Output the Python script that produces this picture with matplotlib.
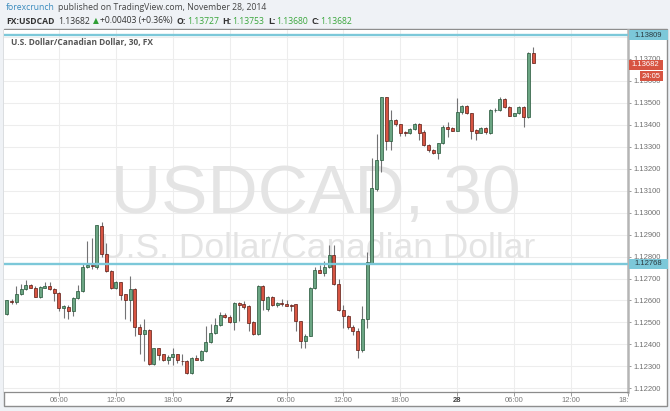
import matplotlib
matplotlib.use("Agg")
import matplotlib.pyplot as plt
import matplotlib.dates as mdates
import matplotlib.transforms as mtrans
from matplotlib.patches import Rectangle
import numpy as np
import pandas as pd

# ---------------- data (USDCAD, 30 min candles) ----------------
first_bar = "2014-11-26 00:30"
opens = [1.12538, 1.12597, 1.12592, 1.12628, 1.12652, 1.12669, 1.12658, 1.12618, 1.12658, 1.12665,
         1.12654, 1.12635, 1.12566, 1.12572, 1.12554, 1.12611, 1.12642, 1.12751, 1.12760, 1.12754,
         1.12938, 1.12811, 1.12735, 1.12657, 1.12682, 1.12628, 1.12603, 1.12654, 1.12480, 1.12449,
         1.12466, 1.12311, 1.12382, 1.12354, 1.12328, 1.12343, 1.12354, 1.12325, 1.12325, 1.12269,
         1.12339, 1.12331, 1.12369, 1.12409, 1.12451, 1.12486, 1.12536, 1.12523, 1.12502, 1.12588,
         1.12582, 1.12574, 1.12502, 1.12446, 1.12665, 1.12562, 1.12615, 1.12579, 1.12588, 1.12582,
         1.12580, 1.12582, 1.12505, 1.12416, 1.12439, 1.12655, 1.12739, 1.12726, 1.12754, 1.12809,
         1.12677, 1.12558, 1.12528, 1.12477, 1.12462, 1.12374, 1.12517, 1.12772, 1.13107, 1.13240,
         1.13526, 1.13328, 1.13422, 1.13404, 1.13368, 1.13362, 1.13380, 1.13404, 1.13369, 1.13308,
         1.13286, 1.13271, 1.13316, 1.13392, 1.13387, 1.13374, 1.13460, 1.13486, 1.13453, 1.13377,
         1.13365, 1.13385, 1.13365, 1.13468, 1.13468, 1.13517, 1.13483, 1.13441, 1.13453, 1.13483,
         1.13435, 1.13727]
highs = [1.12603, 1.12608, 1.12665, 1.12677, 1.12692, 1.12674, 1.12665, 1.12665, 1.12686, 1.12685,
         1.12657, 1.12637, 1.12580, 1.12580, 1.12618, 1.12669, 1.12769, 1.12869, 1.12885, 1.12946,
         1.12957, 1.12862, 1.12738, 1.12689, 1.12685, 1.12631, 1.12711, 1.12658, 1.12492, 1.12515,
         1.12469, 1.12385, 1.12385, 1.12357, 1.12351, 1.12382, 1.12357, 1.12354, 1.12328, 1.12343,
         1.12351, 1.12374, 1.12482, 1.12492, 1.12520, 1.12548, 1.12544, 1.12533, 1.12592, 1.12592,
         1.12597, 1.12579, 1.12505, 1.12669, 1.12669, 1.12619, 1.12619, 1.12592, 1.12605, 1.12602,
         1.12585, 1.12585, 1.12508, 1.12447, 1.12662, 1.12754, 1.12760, 1.12779, 1.12851, 1.12851,
         1.12697, 1.12581, 1.12536, 1.12486, 1.12474, 1.12574, 1.12820, 1.13250, 1.13360, 1.13528,
         1.13528, 1.13467, 1.13425, 1.13406, 1.13372, 1.13385, 1.13410, 1.13408, 1.13375, 1.13312,
         1.13290, 1.13318, 1.13400, 1.13415, 1.13390, 1.13521, 1.13490, 1.13489, 1.13456, 1.13380,
         1.13390, 1.13390, 1.13470, 1.13475, 1.13525, 1.13520, 1.13486, 1.13456, 1.13486, 1.13486,
         1.13730, 1.13753]
lows = [1.12535, 1.12582, 1.12585, 1.12626, 1.12649, 1.12655, 1.12617, 1.12612, 1.12657, 1.12649,
        1.12597, 1.12554, 1.12520, 1.12515, 1.12531, 1.12608, 1.12640, 1.12746, 1.12742, 1.12742,
        1.12800, 1.12731, 1.12652, 1.12654, 1.12600, 1.12515, 1.12508, 1.12438, 1.12354, 1.12323,
        1.12305, 1.12308, 1.12331, 1.12323, 1.12311, 1.12308, 1.12315, 1.12308, 1.12266, 1.12266,
        1.12328, 1.12323, 1.12365, 1.12404, 1.12447, 1.12482, 1.12520, 1.12497, 1.12466, 1.12505,
        1.12562, 1.12459, 1.12443, 1.12443, 1.12558, 1.12554, 1.12574, 1.12571, 1.12577, 1.12574,
        1.12551, 1.12459, 1.12385, 1.12385, 1.12436, 1.12650, 1.12723, 1.12712, 1.12748, 1.12671,
        1.12554, 1.12474, 1.12471, 1.12441, 1.12339, 1.12366, 1.12474, 1.12765, 1.13100, 1.13187,
        1.13286, 1.13286, 1.13395, 1.13350, 1.13347, 1.13360, 1.13378, 1.13331, 1.13305, 1.13276,
        1.13265, 1.13243, 1.13313, 1.13346, 1.13370, 1.13372, 1.13450, 1.13448, 1.13336, 1.13331,
        1.13362, 1.13360, 1.13360, 1.13460, 1.13465, 1.13478, 1.13438, 1.13438, 1.13450, 1.13392,
        1.13432, 1.13680]
closes = [1.12600, 1.12592, 1.12631, 1.12654, 1.12669, 1.12657, 1.12618, 1.12662, 1.12665, 1.12651,
          1.12634, 1.12565, 1.12574, 1.12554, 1.12612, 1.12643, 1.12754, 1.12760, 1.12757, 1.12942,
          1.12811, 1.12734, 1.12657, 1.12682, 1.12623, 1.12603, 1.12654, 1.12480, 1.12449, 1.12465,
          1.12311, 1.12382, 1.12351, 1.12328, 1.12343, 1.12354, 1.12328, 1.12323, 1.12269, 1.12339,
          1.12331, 1.12369, 1.12409, 1.12451, 1.12486, 1.12536, 1.12523, 1.12502, 1.12588, 1.12579,
          1.12569, 1.12497, 1.12446, 1.12665, 1.12603, 1.12615, 1.12579, 1.12588, 1.12582, 1.12577,
          1.12577, 1.12505, 1.12416, 1.12439, 1.12655, 1.12739, 1.12726, 1.12754, 1.12809, 1.12674,
          1.12558, 1.12528, 1.12477, 1.12459, 1.12374, 1.12517, 1.12774, 1.13111, 1.13240, 1.13526,
          1.13328, 1.13422, 1.13404, 1.13365, 1.13363, 1.13380, 1.13404, 1.13365, 1.13308, 1.13286,
          1.13271, 1.13316, 1.13392, 1.13383, 1.13374, 1.13460, 1.13486, 1.13453, 1.13372, 1.13365,
          1.13385, 1.13368, 1.13468, 1.13469, 1.13517, 1.13483, 1.13441, 1.13453, 1.13483, 1.13435,
          1.13727, 1.13682]

price_ticks = [1.122, 1.123, 1.124, 1.125, 1.126, 1.127, 1.128, 1.129, 1.130,
               1.131, 1.132, 1.133, 1.134, 1.135, 1.136, 1.137, 1.138]
time_ticks = ["2014-11-26 06:00", "2014-11-26 12:00", "2014-11-26 18:00", "2014-11-27 00:00",
              "2014-11-27 06:00", "2014-11-27 12:00", "2014-11-27 18:00", "2014-11-28 00:00",
              "2014-11-28 06:00", "2014-11-28 12:00", "2014-11-28 18:00"]
time_tick_labels = ["06:00", "12:00", "18:00", "27", "06:00", "12:00", "18:00", "28",
                    "06:00", "12:00", "18:00"]
hlines = [1.13809, 1.12768]
last_price = 1.13682
countdown = "24:05"

# ---------------- figure layout ----------------
W, H = 670, 411
fig = plt.figure(figsize=(W / 100, H / 100), dpi=100)
fig.patch.set_facecolor("#eff2f6")


def fx(px):
    return px / W


def fy(py):
    return 1 - py / H


fig.patches.append(Rectangle((fx(4), fy(406)), fx(667) - fx(4), fy(29) - fy(406),
                             transform=fig.transFigure, facecolor="white",
                             edgecolor="#8e8e8e", lw=1.0, zorder=-10))

ax = fig.add_axes([fx(4), fy(392), fx(628) - fx(4), fy(30) - fy(392)], zorder=1)
ax.set_facecolor("white")

times = pd.date_range(first_bar, periods=len(opens), freq="30min")
xs = mdates.date2num(times)
day0 = mdates.date2num(pd.Timestamp("2014-11-26 00:00"))
ax.set_xlim(day0 + 0.2 / 24, day0 + 66.02 / 24)
ax.set_ylim(1.12183, 1.13832)

o = np.array(opens); h = np.array(highs); l = np.array(lows); c = np.array(closes)
up = c >= o
ax.vlines(xs, l, h, color="#737375", lw=0.8, zorder=3)
bw = 3.0 / 9.48 / 24
body = np.maximum(np.abs(c - o), 0.000012)
ax.bar(xs[up], body[up], bottom=np.minimum(o, c)[up], width=bw, color="#6ba583",
       edgecolor="#225437", lw=0.5, zorder=4)
ax.bar(xs[~up], body[~up], bottom=np.minimum(o, c)[~up], width=bw, color="#d75442",
       edgecolor="#5b1a13", lw=0.5, zorder=4)

for hv in hlines:
    ax.axhline(hv, color="#7cc8d9", lw=1.7, zorder=5)

# grid and axes
ax.set_yticks(price_ticks)
# the 1.13800 label sits fully under the 1.13809 line label in the original
ax.set_yticklabels(["" if abs(v - 1.138) < 1e-9 else "%.5f" % v for v in price_ticks])
ax.yaxis.tick_right()
ax.tick_params(axis="y", labelsize=5.5, labelcolor="#6f6f6f", color="#8a8a8a",
               length=2.5, width=0.6, pad=1.5)
for t in ax.get_yticklabels():
    t.set_fontfamily("Liberation Sans")
tick_x = mdates.date2num(pd.to_datetime(time_ticks))
ax.set_xticks(tick_x)
ax.tick_params(axis="x", labelbottom=False, length=3, color="#8a8a8a", width=0.6)
ax.grid(True, color="#ededed", lw=0.8, zorder=0)
ax.set_axisbelow(True)
for s in ("top", "left"):
    ax.spines[s].set_visible(False)
ax.spines["right"].set_color("#b5b5b5")
ax.spines["right"].set_linewidth(1.8)
ax.spines["bottom"].set_color("#8c8c8c")
ax.spines["bottom"].set_linewidth(0.9)

# time labels (clipped at the price axis like the original)
clipbox = mtrans.TransformedBbox(mtrans.Bbox([[0, 0], [fx(628), 1]]), fig.transFigure)
blend = mtrans.blended_transform_factory(ax.transData, fig.transFigure)
for xv, lab in zip(tick_x, time_tick_labels):
    bold = lab in ("27", "28")
    tt = fig.text(xv, fy(401.5), lab, transform=blend, ha="center", va="baseline",
                  fontsize=5.5, family="Liberation Sans",
                  color="#444444" if bold else "#7a7a7a",
                  fontweight="bold" if bold else "normal")
    tt.set_clip_on(True)
    tt.set_clip_box(clipbox)

# watermark
ax.text((316 - 4) / 624, (392 - 213) / 362, "USDCAD, 30", transform=ax.transAxes,
        ha="center", va="baseline", fontsize=50, family="Liberation Sans",
        color="#e4e4e4", zorder=1)
ax.text((318 - 4) / 624, (392 - 258) / 362, "U.S. Dollar/Canadian Dollar",
        transform=ax.transAxes, ha="center", va="baseline", fontsize=25.5,
        family="Liberation Sans", color="#e4e4e4", zorder=1)

# inner title
ax.text((11 - 4) / 624, (392 - 45.5) / 362, "U.S. Dollar/Canadian Dollar, 30, FX",
        transform=ax.transAxes, ha="left", va="baseline",
        fontsize=6, family="Open Sans", fontweight="bold", color="#555555", zorder=6)

# price axis labels
pax = fig.add_axes([fx(628), fy(392), fx(667) - fx(628), fy(30) - fy(392)], zorder=2)
pax.set_xlim(0, 39)
pax.set_ylim(ax.get_ylim())
pax.axis("off")
pxh = (1.13832 - 1.12183) / 362  # price per pixel
for hv in hlines:
    pax.add_patch(Rectangle((1, hv - 5 * pxh), 38.5, 10 * pxh, facecolor="#7cc8d9",
                            edgecolor="none", clip_on=False, zorder=5))
    pax.text(20, hv, "%.5f" % hv, ha="center", va="center", fontsize=5.5,
             family="Liberation Sans", color="#2a3a40", zorder=6)
pax.add_patch(Rectangle((1, last_price - 7 * pxh), 33.5, 10 * pxh, facecolor="#d75442",
                        edgecolor="none", clip_on=False, zorder=5))
pax.text(17.5, last_price - 2 * pxh, "%.5f" % last_price, ha="center", va="center",
         fontsize=5.5, family="Liberation Sans", color="white", zorder=6)
pax.add_patch(Rectangle((12, last_price - 18.5 * pxh), 22.5, 10 * pxh, facecolor="#d75442",
                        edgecolor="none", clip_on=False, zorder=5))
pax.text(23.2, last_price - 13.5 * pxh, countdown, ha="center", va="center",
         fontsize=5.5, family="Liberation Sans", color="white", zorder=6)

# header rows
renderer = fig.canvas.get_renderer()


def row(x0, ybase, segs):
    x = x0
    for s, gap, kw in segs:
        x += gap
        t = fig.text(fx(x), fy(ybase), s, ha="left", va="baseline", **kw)
        x = t.get_window_extent(renderer).x1


hf = dict(fontsize=6.2, family=["Open Sans", "DejaVu Sans"])
dark = "#333333"
green = "#3aa63c"
row(6, 10.5, [("forexcrunch", 0, dict(color="#3a8bbd", **hf)),
              ("published on TradingView.com, November 28, 2014", 3.5, dict(color="#444444", **hf))])
row(6, 23.5, [("FX:USDCAD", 0, dict(color=dark, fontweight="bold", **hf)),
              ("1.13682", 3.5, dict(color=dark, **hf)),
              ("\u25b2", 3, dict(color="#2f9e35", fontsize=5.5, family="DejaVu Sans")),
              ("+0.00403 (+0.36%)", 1.5, dict(color=dark, **hf)),
              ("O:", 4, dict(color=dark, fontweight="bold", **hf)),
              ("1.13727", 0.5, dict(color=green, **hf)),
              ("H:", 4, dict(color=dark, fontweight="bold", **hf)),
              ("1.13753", 0.5, dict(color=green, **hf)),
              ("L:", 4, dict(color=dark, fontweight="bold", **hf)),
              ("1.13680", 0.5, dict(color=green, **hf)),
              ("C:", 4, dict(color=dark, fontweight="bold", **hf)),
              ("1.13682", 0.5, dict(color=green, **hf))])

fig.savefig("out.png", dpi=100, facecolor=fig.get_facecolor())
